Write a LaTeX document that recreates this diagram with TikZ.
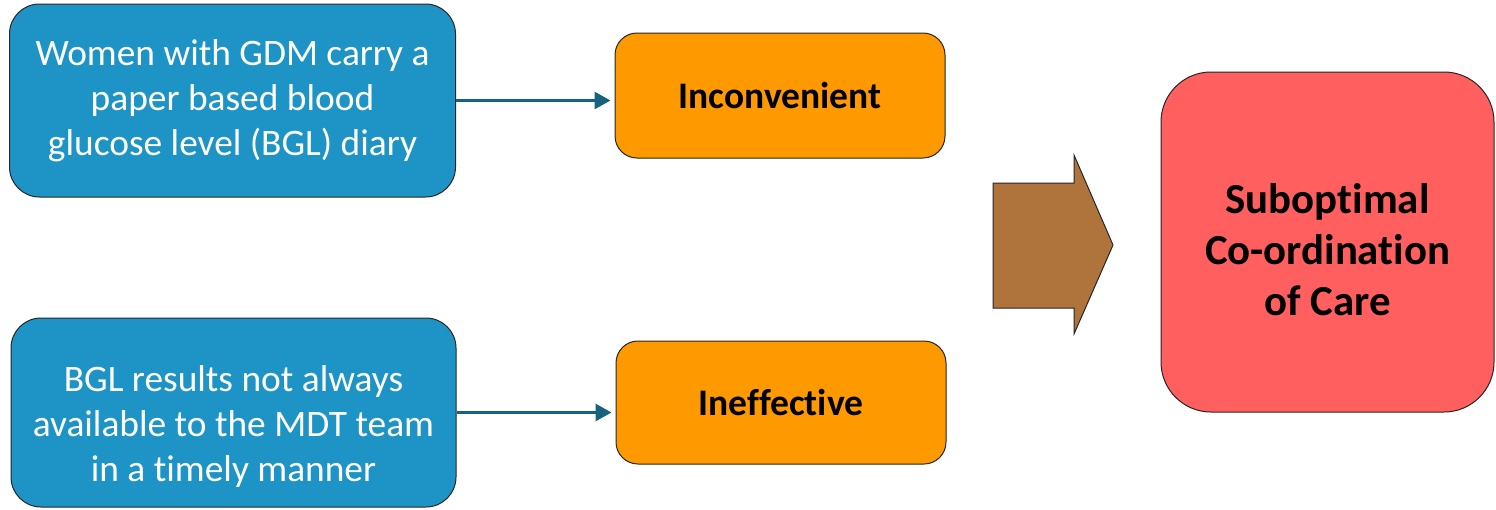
\documentclass[tikz,border=0pt]{standalone}
\usepackage{fontspec}
\setmainfont{Carlito}[Ligatures=NoCommon]
\usetikzlibrary{arrows.meta}
\definecolor{boxblue}{HTML}{1E93C5}
\definecolor{boxorange}{HTML}{FF9900}
\definecolor{boxred}{HTML}{FF5F5F}
\definecolor{bigbrown}{HTML}{AE743C}
\definecolor{connblue}{HTML}{17637F}
\newcommand{\shiftedlines}[2]{\raisebox{#1}[0pt][0pt]{\begin{tabular}{@{}c@{}}#2\end{tabular}}}
\tikzset{
  bluebox/.style={draw=black!85, line width=1pt, fill=boxblue, rounded corners=30pt, inner sep=0pt, text=white, align=center, font=\fontsize{37.4}{45}\selectfont},
  orangebox/.style={draw=black!85, line width=1pt, fill=boxorange, rounded corners=22pt, inner sep=0pt, minimum width=330pt, align=center, font=\bfseries\fontsize{37.5}{42}\selectfont},
  redbox/.style={draw=black!85, line width=1pt, fill=boxred, rounded corners=50pt, inner sep=0pt, align=center, font=\bfseries\fontsize{42.8}{51}\selectfont},
  conn/.style={draw=connblue, line width=3pt, -{Triangle[length=16pt,width=17pt]}, shorten >=4pt},
}
\begin{document}
\begin{tikzpicture}[x=1pt,y=-1pt]
\useasboundingbox (0,0) rectangle (1496,509);
\node[bluebox, minimum width=446pt, minimum height=193pt] (b1) at (232.5,100.5) {Women with GDM carry a\\paper based blood\\glucose level (BGL) diary};
\node[bluebox, minimum width=445pt, minimum height=189pt] (b2) at (233.5,412.5) {\shiftedlines{-21.4pt}{BGL results not always\\available to the MDT team\\in a timely manner}};
\node[orangebox, minimum height=125pt] (o1) at (780,95.5) {Inconvenient};
\node[orangebox, minimum height=123pt] (o2) at (781,402.5) {Ineffective};
\node[redbox, minimum width=333pt, minimum height=340pt] (r) at (1327.5,242) {\shiftedlines{-19pt}{Suboptimal\\Co-ordination\\of Care}};
\draw[conn] (b1.east) -- (o1.west |- b1.east);
\draw[conn] (b2.east) -- (o2.west |- b2.east);
\draw[draw=black!85, line width=1pt, fill=bigbrown] (993,183) -- (1074,183) -- (1074,155) -- (1113,245) -- (1074,334) -- (1074,308) -- (993,308) -- cycle;
\end{tikzpicture}
\end{document}
